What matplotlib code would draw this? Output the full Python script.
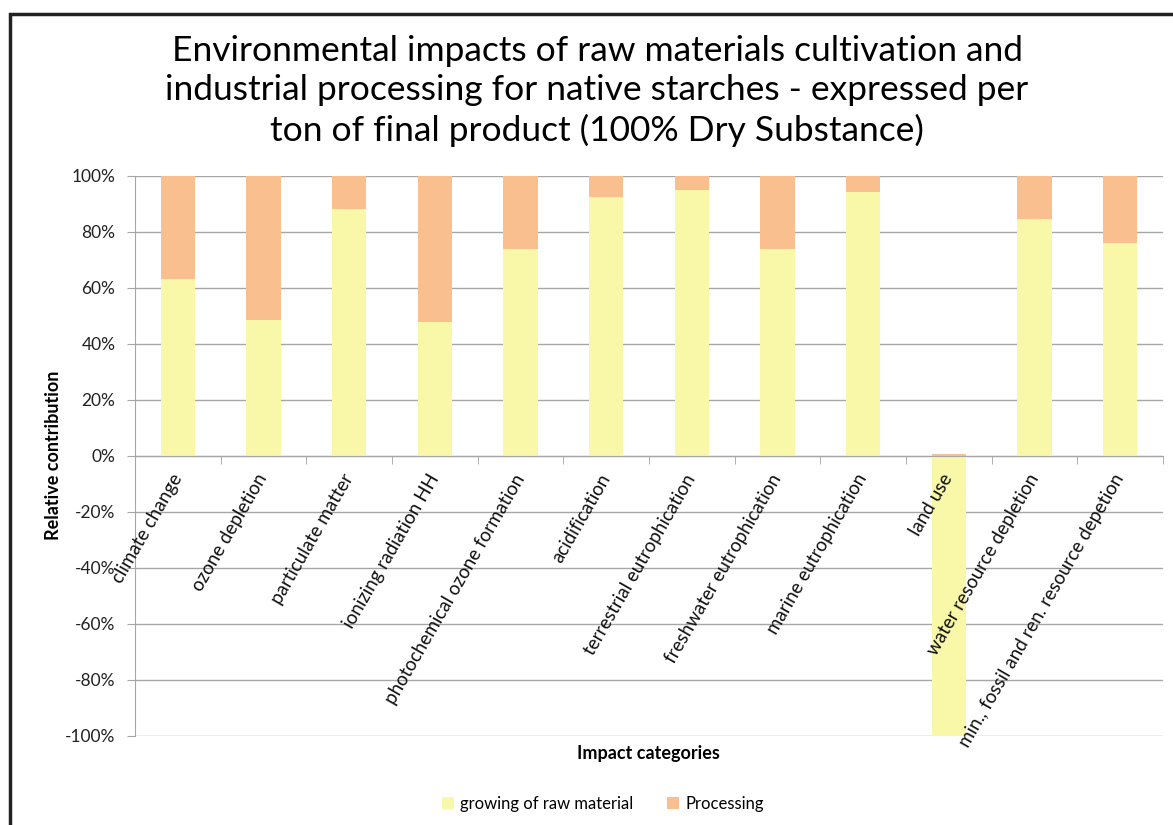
import matplotlib.pyplot as plt
from matplotlib.patches import Rectangle
from matplotlib.ticker import FixedLocator
import numpy as np

plt.rcParams['font.family'] = ['Lato', 'DejaVu Sans']

categories = ['climate change', 'ozone depletion', 'particulate matter',
              'ionizing radiation HH', 'photochemical ozone formation',
              'acidification', 'terrestrial eutrophication',
              'freshwater eutrophication', 'marine eutrophication', 'land use',
              'water resource depletion',
              'min., fossil and ren. resource depetion']
growing = [63.2, 48.6, 88.2, 47.9, 73.9, 92.5, 95.0, 73.9, 94.3, -100.0, 84.6, 76.1]
processing = [36.8, 51.4, 11.8, 52.1, 26.1, 7.5, 5.0, 26.1, 5.7, 0.5, 15.4, 23.9]

yellow = '#F8F8A8'
orange = '#FABF8F'
grid_col = '#A6A6A6'

fig = plt.figure(figsize=(11.73, 8.25), dpi=100)
ax = fig.add_axes([0.115, 0.108, 0.8765, 0.679])

x = np.arange(len(categories))
ax.bar(x, growing, width=0.4, color=yellow, label='growing of raw material', zorder=2)
# processing sits on top of the positive part of growing
bottoms = [g if g > 0 else 0 for g in growing]
ax.bar(x, processing, width=0.4, bottom=bottoms, color=orange, label='Processing', zorder=2)

ax.set_xlim(-0.5, len(categories) - 0.5)
ax.set_ylim(-100, 100)
ax.set_yticks(np.arange(-100, 101, 20))
ax.set_yticklabels([f'{v}%' for v in range(-100, 101, 20)], fontsize=12.5, color='#222222')
ax.yaxis.grid(True, color=grid_col, lw=1)
ax.tick_params(axis='y', length=6, color=grid_col, pad=8)

ax.spines['top'].set_visible(False)
ax.spines['right'].set_visible(False)
ax.spines['left'].set_color(grid_col)
ax.spines['bottom'].set_color(grid_col)
ax.spines['bottom'].set_position(('data', 0))
ax.spines['bottom'].set_zorder(3)

ax.set_xticks(x)
ax.set_xticklabels(categories, rotation=60, ha='right', va='center',
                   rotation_mode='anchor', fontsize=13.5, color='#111111')
ax.tick_params(axis='x', which='major', length=0, pad=14)
ax.xaxis.set_minor_locator(FixedLocator(np.arange(-0.5, len(categories), 1.0)))
ax.tick_params(axis='x', which='minor', length=6, color=grid_col)

# grid behind the bars, category labels in front of them
ax.yaxis.set_zorder(0.5)
ax.xaxis.set_zorder(3)

ax.set_ylabel('Relative contribution', fontsize=13, fontweight='bold', labelpad=2)
fig.text(0.553, 0.087, 'Impact categories', ha='center', va='center',
         fontsize=13, fontweight='bold')

fig.text(0.509, 0.890,
         'Environmental impacts of raw materials cultivation and\n'
         'industrial processing for native starches - expressed per\n'
         'ton of final product (100% Dry Substance)',
         ha='center', va='center', fontsize=25.5, linespacing=1.28)

fig.legend(loc='center', bbox_to_anchor=(0.514, 0.026), ncol=2, frameon=False,
           fontsize=12, handlelength=0.7, handleheight=0.7, columnspacing=2.0,
           handletextpad=0.4)

# outer chart border (frame cropped at right and bottom)
fig.patches.append(Rectangle((10 / 1173, -0.1), 1.2, (825 - 14) / 825 + 0.1,
                             transform=fig.transFigure, fill=False,
                             edgecolor='#222222', lw=2.5))

fig.savefig('out.png', dpi=100)
